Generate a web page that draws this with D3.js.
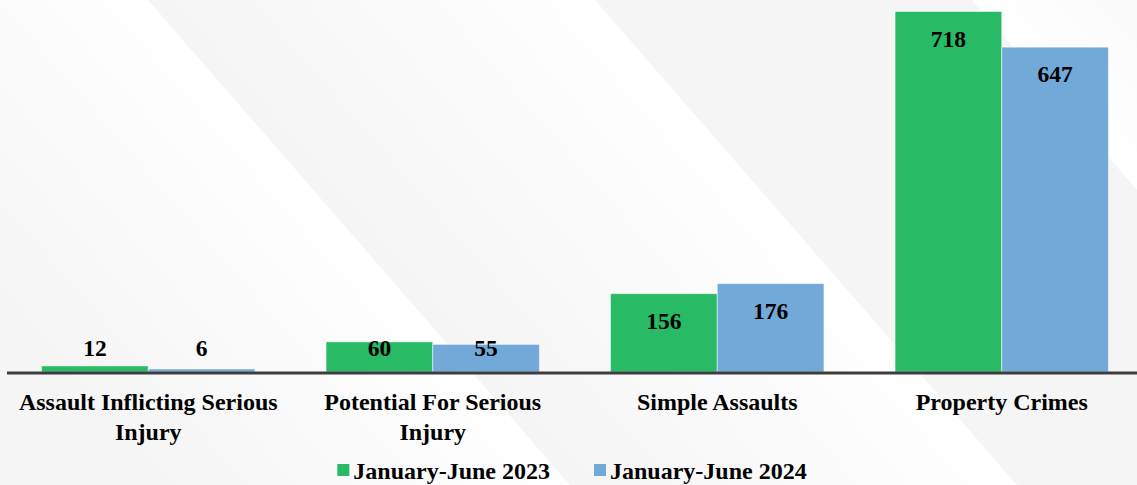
<!DOCTYPE html>
<html>
<head>
<meta charset="utf-8">
<script src="https://cdn.jsdelivr.net/npm/d3@7"></script>
<style>
  html, body { margin: 0; padding: 0; background: #f6f6f6; }
  svg { display: block; }
  text { font-family: "Liberation Serif", "Times New Roman", serif; font-weight: bold; fill: #000; }
</style>
</head>
<body>
<div id="chart"></div>
<script>
// Offense categories and half-year counts
const categories = [
  "Assault Inflicting Serious Injury",
  "Potential For Serious Injury",
  "Simple Assaults",
  "Property Crimes"
];
const seriesNames = ["January-June 2023", "January-June 2024"];
const values2023 = [12, 60, 156, 718];
const values2024 = [6, 55, 176, 647];
const seriesColors = ["#28ba64", "#73a9d8"];

const W = 1137, H = 485;
const baseY = 372;

const svg = d3.select("#chart").append("svg")
  .attr("width", W).attr("height", H);

// Soft diagonal light bands in the backdrop
const defs = svg.append("defs");
const slope = 0.87;              // dx per dy of the band edges
const nx = 1 / Math.hypot(1, slope), ny = slope / Math.hypot(1, slope);
const bands = [
  { x0: 148, w: 320, dir: -1 },
  { x0: 595, w: 340, dir: -1 },
  { x0: 972, w: 260, dir: 1 }
];
svg.append("rect").attr("width", W).attr("height", H).attr("fill", "#f5f5f5");
bands.forEach((b, i) => {
  const g = defs.append("linearGradient")
    .attr("id", "band" + i)
    .attr("gradientUnits", "userSpaceOnUse")
    .attr("x1", b.x0).attr("y1", 0)
    .attr("x2", b.x0 + b.dir * b.w * nx).attr("y2", -b.dir * b.w * ny);
  g.append("stop").attr("offset", 0).attr("stop-color", "#ffffff").attr("stop-opacity", 1);
  g.append("stop").attr("offset", 1).attr("stop-color", "#ffffff").attr("stop-opacity", 0);
  const span = b.dir * b.w * 1.4;
  const pts = [
    [b.x0, 0], [b.x0 + slope * H, H],
    [b.x0 + slope * H + span, H], [b.x0 + span, 0]
  ];
  svg.append("path")
    .attr("d", "M" + pts.map(p => p.join(",")).join("L") + "Z")
    .attr("fill", "url(#band" + i + ")");
});

// Scales
const x0 = d3.scaleBand().domain(categories).range([6, 1144]).paddingInner(0).paddingOuter(0);
const x1 = d3.scaleBand().domain(seriesNames).range([0, x0.bandwidth() * 0.75]);
const y = d3.scaleLinear().domain([0, 718]).range([baseY, 11.5]);

const rows = categories.map((c, i) => ({
  cat: c,
  vals: [
    { s: seriesNames[0], v: values2023[i], color: seriesColors[0] },
    { s: seriesNames[1], v: values2024[i], color: seriesColors[1] }
  ]
}));

const groupOffset = x0.bandwidth() * 0.125;
const groups = svg.append("g").selectAll("g").data(rows).join("g")
  .attr("transform", d => `translate(${x0(d.cat) + groupOffset},0)`);

groups.selectAll("rect").data(d => d.vals).join("rect")
  .attr("x", d => x1(d.s))
  .attr("y", d => y(d.v))
  .attr("width", x1.bandwidth())
  .attr("height", d => baseY - y(d.v))
  .attr("fill", d => d.color)
  .attr("stroke", "#ffffff")
  .attr("stroke-opacity", 0.5)
  .attr("stroke-width", 1);

// Value labels inside the bar top, lifted above short bars
groups.selectAll("text.val").data(d => d.vals).join("text")
  .attr("class", "val")
  .attr("x", d => x1(d.s) + x1.bandwidth() / 2)
  .attr("y", d => Math.min(y(d.v) + 27, baseY - 24))
  .attr("text-anchor", "middle")
  .attr("dominant-baseline", "central")
  .attr("font-size", 23.5)
  .text(d => d.v);

// Category axis
const axis = d3.axisBottom(x0).tickSize(0).tickPadding(0);
const axisG = svg.append("g").attr("transform", `translate(0,${baseY})`).call(axis);
axisG.select(".domain").remove();
svg.append("line")
  .attr("x1", 7).attr("x2", W)
  .attr("y1", baseY + 1).attr("y2", baseY + 1)
  .attr("stroke", "#3d3d3d").attr("stroke-width", 3);

axisG.selectAll(".tick text")
  .attr("font-size", 24)
  .attr("fill", "#000")
  .attr("font-family", "Liberation Serif, Times New Roman, serif")
  .attr("font-weight", "bold")
  .attr("y", 0)
  .attr("dy", null)
  .each(function(d) {
    const t = d3.select(this);
    const words = d.split(" ");
    t.text(null);
    let line = [];
    const lines = [];
    const probe = t.append("tspan");
    words.forEach(wd => {
      line.push(wd);
      probe.text(line.join(" "));
      if (probe.node().getComputedTextLength() > 272 && line.length > 1) {
        line.pop();
        lines.push(line.join(" "));
        line = [wd];
      }
    });
    lines.push(line.join(" "));
    probe.remove();
    lines.forEach((ln, i) => {
      t.append("tspan").attr("x", 0).attr("y", 38 + i * 30).text(ln);
    });
  });

// Legend
const legend = svg.append("g");
const items = legend.selectAll("g").data(seriesNames).join("g");
items.append("rect")
  .attr("width", 12).attr("height", 12)
  .attr("y", -6)
  .attr("fill", (d, i) => seriesColors[i]);
items.append("text")
  .attr("x", 16)
  .attr("y", 1)
  .attr("dominant-baseline", "central")
  .attr("font-size", 24)
  .text(d => d);
let cursor = 0;
const gap = 44;
items.each(function() {
  const g = d3.select(this);
  g.attr("transform", `translate(${cursor},0)`);
  cursor += this.getBBox().width + gap;
});
cursor -= gap;
legend.attr("transform", `translate(${572 - cursor / 2},470)`);
</script>
</body>
</html>
